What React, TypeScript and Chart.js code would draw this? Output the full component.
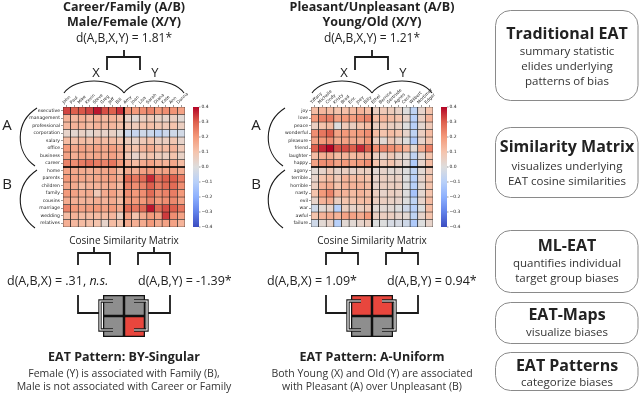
import React, { useEffect, useRef } from 'react';
import { Chart, registerables } from 'chart.js';
Chart.register(...registerables);

// ---------- data ----------
const careerFamilyRows = ['executive', 'management', 'professional', 'corporation', 'salary', 'office', 'business', 'career',
  'home', 'parents', 'children', 'family', 'cousins', 'marriage', 'wedding', 'relatives'];
const maleFemaleCols = ['John', 'Paul', 'Mike', 'Kevin', 'Steve', 'Greg', 'Jeff', 'Bill',
  'Amy', 'Joan', 'Lisa', 'Sarah', 'Diana', 'Kate', 'Ann', 'Donna'];
const careerFamilyValues = [
  [0.33, 0.30, 0.31, 0.33, 0.38, 0.32, 0.30, 0.35, 0.22, 0.20, 0.22, 0.24, 0.20, 0.22, 0.21, 0.18],
  [0.14, 0.13, 0.15, 0.13, 0.15, 0.13, 0.14, 0.12, 0.04, 0.02, 0.06, 0.08, 0.05, 0.04, 0.06, 0.02],
  [0.13, 0.14, 0.14, 0.12, 0.14, 0.13, 0.13, 0.11, 0.08, 0.07, 0.10, 0.11, 0.09, 0.08, 0.10, 0.06],
  [0.04, 0.03, 0.05, 0.03, 0.05, 0.04, 0.05, 0.02, -0.05, -0.06, -0.04, -0.05, -0.08, -0.05, -0.04, -0.03],
  [0.12, 0.11, 0.12, 0.11, 0.13, 0.12, 0.12, 0.10, 0.07, 0.05, 0.08, 0.10, 0.06, 0.06, 0.09, 0.04],
  [0.20, 0.17, 0.18, 0.17, 0.18, 0.17, 0.19, 0.16, 0.12, 0.10, 0.14, 0.16, 0.12, 0.12, 0.14, 0.08],
  [0.18, 0.15, 0.17, 0.16, 0.17, 0.16, 0.18, 0.15, 0.08, 0.04, 0.08, 0.10, 0.07, 0.06, 0.10, 0.05],
  [0.24, 0.22, 0.25, 0.27, 0.25, 0.24, 0.26, 0.20, 0.15, 0.12, 0.16, 0.18, 0.15, 0.14, 0.17, 0.12],
  [0.18, 0.17, 0.16, 0.15, 0.16, 0.17, 0.18, 0.12, 0.16, 0.15, 0.18, 0.20, 0.17, 0.18, 0.19, 0.16],
  [0.20, 0.18, 0.17, 0.16, 0.17, 0.18, 0.19, 0.15, 0.28, 0.26, 0.28, 0.36, 0.27, 0.30, 0.30, 0.25],
  [0.17, 0.16, 0.12, 0.14, 0.14, 0.15, 0.16, 0.12, 0.24, 0.22, 0.24, 0.30, 0.25, 0.28, 0.28, 0.22],
  [0.20, 0.18, 0.15, 0.16, 0.08, 0.16, 0.18, 0.14, 0.22, 0.20, 0.22, 0.28, 0.22, 0.24, 0.25, 0.20],
  [0.16, 0.15, 0.14, 0.14, 0.15, 0.14, 0.16, 0.12, 0.20, 0.20, 0.20, 0.24, 0.20, 0.22, 0.23, 0.18],
  [0.24, 0.20, 0.18, 0.19, 0.20, 0.18, 0.20, 0.16, 0.28, 0.26, 0.28, 0.38, 0.28, 0.32, 0.30, 0.26],
  [0.12, 0.14, 0.12, 0.12, 0.12, 0.12, 0.13, 0.06, 0.18, 0.10, 0.16, 0.20, 0.18, 0.34, 0.22, 0.18],
  [0.15, 0.13, 0.12, 0.11, 0.10, 0.04, 0.12, 0.10, 0.16, 0.15, 0.16, 0.20, 0.16, 0.18, 0.18, 0.14],
];

const pleasantRows = ['joy', 'love', 'peace', 'wonderful', 'pleasure', 'friend', 'laughter', 'happy',
  'agony', 'terrible', 'horrible', 'nasty', 'evil', 'war', 'awful', 'failure'];
const youngOldCols = ['Tiffany', 'Michelle', 'Cindy', 'Kristy', 'Brad', 'Eric', 'Joey', 'Billy',
  'Ethel', 'Bernice', 'Gertrude', 'Agnes', 'Cecil', 'Wilbert', 'Mortimer', 'Edgar'];
const pleasantValues = [
  [0.12, 0.13, 0.12, 0.10, 0.11, 0.12, 0.14, 0.12, 0.06, 0.08, 0.07, 0.05, 0.00, -0.08, 0.04, 0.10],
  [0.20, 0.24, 0.25, 0.18, 0.20, 0.19, 0.22, 0.24, 0.12, 0.14, 0.12, 0.10, 0.04, -0.10, 0.06, 0.14],
  [0.06, 0.10, 0.12, 0.00, 0.08, 0.06, 0.10, 0.12, 0.06, 0.08, 0.06, 0.05, 0.00, -0.10, 0.03, 0.08],
  [0.22, 0.26, 0.30, 0.18, 0.20, 0.18, 0.20, 0.22, 0.12, 0.10, 0.12, 0.10, 0.04, -0.08, 0.06, 0.12],
  [0.18, 0.20, 0.22, 0.16, 0.18, 0.16, 0.16, 0.20, 0.06, 0.02, 0.08, 0.04, 0.00, -0.12, 0.04, 0.10],
  [0.30, 0.36, 0.40, 0.32, 0.32, 0.30, 0.36, 0.30, 0.22, 0.24, 0.22, 0.20, 0.14, 0.02, 0.16, 0.24],
  [0.12, 0.15, 0.16, 0.12, 0.14, 0.12, 0.14, 0.14, 0.06, 0.04, 0.08, 0.04, 0.02, -0.08, 0.03, 0.10],
  [0.18, 0.22, 0.22, 0.18, 0.20, 0.18, 0.20, 0.22, 0.10, 0.08, 0.10, 0.06, 0.02, -0.12, 0.04, 0.12],
  [0.02, 0.04, 0.08, 0.04, 0.06, 0.04, 0.06, 0.06, 0.02, 0.04, 0.02, 0.03, 0.00, -0.08, 0.02, 0.08],
  [0.04, 0.10, 0.12, 0.08, 0.14, 0.12, 0.12, 0.10, 0.04, 0.06, 0.05, 0.05, 0.00, -0.10, 0.04, 0.10],
  [0.06, 0.14, 0.16, 0.10, 0.14, 0.14, 0.14, 0.12, 0.04, 0.06, 0.06, 0.06, 0.00, -0.10, 0.03, 0.10],
  [0.10, 0.20, 0.24, 0.14, 0.14, 0.12, 0.14, 0.12, 0.06, 0.04, 0.06, 0.05, 0.00, -0.14, 0.03, 0.10],
  [0.04, 0.14, 0.16, 0.06, 0.10, 0.10, 0.12, 0.12, 0.06, 0.06, 0.05, 0.04, 0.00, -0.08, 0.04, 0.12],
  [-0.04, 0.02, 0.04, -0.10, 0.06, 0.04, 0.06, 0.08, 0.02, 0.02, 0.02, 0.00, -0.04, -0.10, 0.00, 0.12],
  [0.10, 0.14, 0.16, 0.14, 0.18, 0.18, 0.16, 0.20, 0.06, 0.06, 0.06, 0.04, 0.02, -0.08, 0.04, 0.10],
  [-0.04, 0.02, 0.04, -0.10, 0.02, 0.02, 0.04, 0.06, 0.00, 0.00, -0.02, -0.02, -0.04, -0.12, 0.00, 0.04],
];

const colorbarTicks = [0.4, 0.3, 0.2, 0.1, 0.0, -0.1, -0.2, -0.3, -0.4];
const mapGroups = ['X', 'Y'];
const patternBYSingular = [[0, 0], [0, 1]];
const patternAUniform = [[1, 1], [0, 0]];

// ---------- styling helpers ----------
const VMIN = -0.4;
const VMAX = 0.4;
const coolwarmStops: [number, number, number][] = [
  [59, 76, 192], [98, 130, 234], [141, 176, 254], [184, 208, 249], [221, 221, 221],
  [245, 196, 173], [244, 154, 123], [222, 96, 77], [180, 4, 38],
];
function coolwarm(v: number): string {
  let t = (v - VMIN) / (VMAX - VMIN);
  t = Math.max(0, Math.min(1, t));
  const p = t * (coolwarmStops.length - 1);
  const i = Math.min(coolwarmStops.length - 2, Math.floor(p));
  const f = p - i;
  const a = coolwarmStops[i], b = coolwarmStops[i + 1];
  const c = a.map((x, k) => Math.round(x + (b[k] - x) * f));
  return `rgb(${c[0]},${c[1]},${c[2]})`;
}

const HM_W = 205, HM_H = 152, HM_YW = 45, HM_XH = 29;

function Heatmap({ rows, cols, values, left, top }: { rows: string[]; cols: string[]; values: number[][]; left: number; top: number }) {
  const ref = useRef<HTMLCanvasElement | null>(null);
  useEffect(() => {
    if (!ref.current) return;
    const datasets = values.map((row, r) => ({
      label: rows[r],
      data: row.map(() => 1),
      backgroundColor: row.map((v) => coolwarm(v)),
      borderColor: 'rgba(10,10,10,0.9)',
      borderWidth: 0.65,
      borderSkipped: false as const,
      barPercentage: 1,
      categoryPercentage: 1,
      stack: 'rows',
    }));
    const linesPlugin = {
      id: 'hmLines',
      afterDatasetsDraw(chart: any) {
        const { ctx, chartArea } = chart;
        const xs = chart.scales.x, ys = chart.scales.y;
        const half = cols.length / 2;
        const xm = (xs.getPixelForValue(half - 1) + xs.getPixelForValue(half)) / 2;
        const ym = ys.getPixelForValue(rows.length / 2);
        ctx.save();
        ctx.strokeStyle = '#000';
        ctx.lineWidth = 1.7;
        ctx.beginPath();
        ctx.moveTo(xm, chartArea.top);
        ctx.lineTo(xm, chartArea.bottom);
        ctx.moveTo(chartArea.left, ym);
        ctx.lineTo(chartArea.right, ym);
        ctx.stroke();
        ctx.restore();
      },
      afterDraw(chart: any) {
        const { ctx, chartArea } = chart;
        const x0 = chartArea.right + 8, w = 6;
        const t = chartArea.top, b = chartArea.bottom;
        const g = ctx.createLinearGradient(0, b, 0, t);
        coolwarmStops.forEach((c, i) => g.addColorStop(i / (coolwarmStops.length - 1), `rgb(${c[0]},${c[1]},${c[2]})`));
        ctx.save();
        ctx.fillStyle = g;
        ctx.fillRect(x0, t, w, b - t);
        ctx.strokeStyle = '#333';
        ctx.fillStyle = '#222';
        ctx.lineWidth = 0.5;
        ctx.font = '4.5px "DejaVu Sans"';
        ctx.textBaseline = 'middle';
        ctx.textAlign = 'left';
        colorbarTicks.forEach((v) => {
          const y = t + ((VMAX - v) / (VMAX - VMIN)) * (b - t);
          ctx.beginPath();
          ctx.moveTo(x0 + w, y);
          ctx.lineTo(x0 + w + 1.5, y);
          ctx.stroke();
          const s = v < 0 ? '\u2212' + Math.abs(v).toFixed(1) : v.toFixed(1);
          ctx.fillText(s, x0 + w + 2.5, y);
        });
        ctx.restore();
      },
    };
    const chart = new Chart(ref.current, {
      type: 'bar',
      data: { labels: cols, datasets },
      options: {
        animation: false,
        responsive: false,
        events: [],
        layout: { padding: { left: 0, top: 0, right: HM_W - HM_YW - 122, bottom: HM_H - HM_XH - 120 } },
        plugins: { legend: { display: false }, tooltip: { enabled: false } },
        scales: {
          x: {
            type: 'category',
            position: 'top',
            stacked: true,
            grid: { display: true, drawOnChartArea: false, tickLength: 2, offset: false, color: '#333', lineWidth: 0.5 },
            border: { display: false },
            ticks: { autoSkip: false, minRotation: 45, maxRotation: 45, padding: 0, color: '#222', font: { size: 4.3, family: 'DejaVu Sans' } },
            afterFit: (s: any) => { s.height = HM_XH; s.paddingLeft = 0; s.paddingRight = 0; },
          },
          y: {
            type: 'linear',
            stacked: true,
            reverse: true,
            min: 0,
            max: rows.length,
            grid: { display: true, drawOnChartArea: false, tickLength: 2, color: '#333', lineWidth: 0.5 },
            border: { display: false },
            afterBuildTicks: (s: any) => { s.ticks = rows.map((_, i) => ({ value: i + 0.5 })); },
            ticks: {
              autoSkip: false, padding: 1, color: '#222', font: { size: 4.6, family: 'DejaVu Sans' },
              callback: (v: any) => rows[Math.floor(Number(v))] ?? '',
            },
            afterFit: (s: any) => { s.width = HM_YW; s.paddingTop = 0; s.paddingBottom = 0; },
          },
        },
      },
      plugins: [linesPlugin],
    } as any);
    return () => chart.destroy();
  }, [rows, cols, values]);
  return <canvas ref={ref} width={HM_W} height={HM_H} style={{ position: 'absolute', left, top, width: HM_W, height: HM_H }} />;
}

function EatMap({ pattern, left, top }: { pattern: number[][]; left: number; top: number }) {
  const ref = useRef<HTMLCanvasElement | null>(null);
  useEffect(() => {
    if (!ref.current) return;
    const datasets = pattern.map((row) => ({
      data: row.map(() => 1),
      backgroundColor: row.map((v) => (v ? '#e8463d' : '#8e8e8e')),
      borderColor: '#111',
      borderWidth: 1.6,
      borderSkipped: false as const,
      barPercentage: 1,
      categoryPercentage: 1,
      stack: 'm',
    }));
    const chart = new Chart(ref.current, {
      type: 'bar',
      data: { labels: mapGroups, datasets },
      options: {
        animation: false,
        responsive: false,
        events: [],
        layout: { padding: 0 },
        plugins: { legend: { display: false }, tooltip: { enabled: false } },
        scales: {
          x: { type: 'category', stacked: true, display: false },
          y: { type: 'linear', stacked: true, reverse: true, min: 0, max: pattern.length, display: false },
        },
      },
    } as any);
    return () => chart.destroy();
  }, [pattern]);
  return <canvas ref={ref} width={42} height={42} style={{ position: 'absolute', left, top, width: 42, height: 42 }} />;
}

const FONT = '"Open Sans", "DejaVu Sans", sans-serif';
const LINE = '#1a1a1a';

function PanelOverlay({ dx, mapX }: { dx: number; mapX: number }) {
  const s = (x: number) => x + dx;
  return (
    <g fill="none" stroke={LINE} strokeWidth={1.8}>
      <path d={`M${s(124)} 50 L${s(124)} 57 M${s(107)} 70 L${s(107)} 57 L${s(140)} 57 L${s(140)} 70`} />
      <path strokeWidth={1.1} d={`M${s(64)} 93 C${s(75)} 77, ${s(113)} 77, ${s(124)} 93`} />
      <path strokeWidth={1.1} d={`M${s(124)} 93 C${s(135)} 77, ${s(173)} 77, ${s(184)} 93`} />
      <path strokeWidth={1.1} d={`M${s(37)} 108 C${s(15)} 122, ${s(15)} 152, ${s(35)} 166`} />
      <path strokeWidth={1.1} d={`M${s(37)} 170 C${s(15)} 185, ${s(15)} 213, ${s(35)} 228`} />
      <path d={`M${s(94)} 247 L${s(94)} 253 M${s(78)} 265 L${s(78)} 253 L${s(110)} 253 L${s(110)} 265`} />
      <path d={`M${s(154)} 247 L${s(154)} 253 M${s(138)} 265 L${s(138)} 253 L${s(170)} 253 L${s(170)} 265`} />
      <path d={`M${s(78)} 295 L${s(78)} 313 L${mapX - 3} 313`} />
      <path d={`M${s(170)} 295 L${s(170)} 313 L${mapX + 44} 313`} />
      <path strokeWidth={3.4} d={`M${mapX + 10} 301 L${mapX - 3} 301 L${mapX - 3} 330 L${mapX + 10} 330`} />
      <path strokeWidth={1.2} stroke="#fff" d={`M${mapX + 10} 301 L${mapX - 3} 301 L${mapX - 3} 330 L${mapX + 10} 330`} />
      <path strokeWidth={3.4} d={`M${mapX + 31} 301 L${mapX + 44} 301 L${mapX + 44} 330 L${mapX + 31} 330`} />
      <path strokeWidth={1.2} stroke="#fff" d={`M${mapX + 31} 301 L${mapX + 44} 301 L${mapX + 44} 330 L${mapX + 31} 330`} />
    </g>
  );
}

function BoxText({ y, h, title, lines, titleY, lineYs }: { y: number; h: number; title: string; lines: string[]; titleY: number; lineYs: number[] }) {
  return (
    <g>
      <rect x={495.5} y={y + 0.5} width={142.5} height={h} rx={15} ry={15} fill="none" stroke="#8a8a8a" strokeWidth={1} />
      <text x={567} y={titleY} textAnchor="middle" fontFamily={FONT} fontWeight={700} fontSize={16} fill="#222">{title}</text>
      {lines.map((l, i) => (
        <text key={i} x={567} y={lineYs[i]} textAnchor="middle" fontFamily={FONT} fontSize={11.5} fill="#333">{l}</text>
      ))}
    </g>
  );
}

export default function App() {
  const t = { fontFamily: FONT, fill: '#222' } as const;
  return (
    <div style={{ position: 'fixed', left: 0, top: 0, width: 640, height: 394, background: '#fff', overflow: 'hidden' }}>
      <Heatmap rows={careerFamilyRows} cols={maleFemaleCols} values={careerFamilyValues} left={18} top={78} />
      <Heatmap rows={pleasantRows} cols={youngOldCols} values={pleasantValues} left={266} top={78} />
      <EatMap pattern={patternBYSingular} left={103} top={295} />
      <EatMap pattern={patternAUniform} left={351} top={295} />
      <svg width={640} height={394} style={{ position: 'absolute', left: 0, top: 0, pointerEvents: 'none' }}>
        <PanelOverlay dx={0} mapX={103} />
        <PanelOverlay dx={248} mapX={351} />

        <text {...t} x={124} y={11} textAnchor="middle" fontWeight={700} fontSize={12.5}>Career/Family (A/B)</text>
        <text {...t} x={124} y={26} textAnchor="middle" fontWeight={700} fontSize={12.5}>Male/Female (X/Y)</text>
        <text {...t} x={124} y={42} textAnchor="middle" fontSize={12}>d(A,B,X,Y) = 1.81*</text>
        <text {...t} x={96} y={77} textAnchor="middle" fontSize={13}>X</text>
        <text {...t} x={155} y={77} textAnchor="middle" fontSize={13}>Y</text>
        <text {...t} x={7} y={130} textAnchor="middle" fontSize={15}>A</text>
        <text {...t} x={7} y={189} textAnchor="middle" fontSize={15}>B</text>
        <text {...t} x={124} y={244} textAnchor="middle" fontSize={10}>Cosine Similarity Matrix</text>
        <text {...t} x={7} y={285} fontSize={12.5}>d(A,B,X) = .31, <tspan fontStyle="italic">n.s.</tspan></text>
        <text {...t} x={138} y={285} fontSize={12.5}>d(A,B,Y) = -1.39*</text>
        <text {...t} x={124} y={361} textAnchor="middle" fontWeight={700} fontSize={12.5}>EAT Pattern: BY-Singular</text>
        <text {...t} x={124} y={377} textAnchor="middle" fontSize={10.5} fill="#333">Female (Y) is associated with Family (B),</text>
        <text {...t} x={124} y={390} textAnchor="middle" fontSize={10.5} fill="#333">Male is not associated with Career or Family</text>

        <text {...t} x={372} y={11} textAnchor="middle" fontWeight={700} fontSize={12.5}>Pleasant/Unpleasant (A/B)</text>
        <text {...t} x={372} y={26} textAnchor="middle" fontWeight={700} fontSize={12.5}>Young/Old (X/Y)</text>
        <text {...t} x={372} y={42} textAnchor="middle" fontSize={12}>d(A,B,X,Y) = 1.21*</text>
        <text {...t} x={344} y={77} textAnchor="middle" fontSize={13}>X</text>
        <text {...t} x={403} y={77} textAnchor="middle" fontSize={13}>Y</text>
        <text {...t} x={256} y={130} textAnchor="middle" fontSize={15}>A</text>
        <text {...t} x={256} y={189} textAnchor="middle" fontSize={15}>B</text>
        <text {...t} x={372} y={244} textAnchor="middle" fontSize={10}>Cosine Similarity Matrix</text>
        <text {...t} x={267} y={285} fontSize={12.5}>d(A,B,X) = 1.09*</text>
        <text {...t} x={387} y={285} fontSize={12.5}>d(A,B,Y) = 0.94*</text>
        <text {...t} x={372} y={361} textAnchor="middle" fontWeight={700} fontSize={12.5}>EAT Pattern: A-Uniform</text>
        <text {...t} x={372} y={377} textAnchor="middle" fontSize={10.5} fill="#333">Both Young (X) and Old (Y) are associated</text>
        <text {...t} x={372} y={390} textAnchor="middle" fontSize={10.5} fill="#333">with Pleasant (A) over Unpleasant (B)</text>

        <BoxText y={10} h={90} title="Traditional EAT" titleY={39} lines={['summary statistic', 'elides underlying', 'patterns of bias']} lineYs={[55, 70, 85]} />
        <BoxText y={127} h={70} title="Similarity Matrix" titleY={152} lines={['visualizes underlying', 'EAT cosine similarities']} lineYs={[170, 185]} />
        <BoxText y={230} h={62} title="ML-EAT" titleY={251} lines={['quantifies individual', 'target group biases']} lineYs={[267, 282]} />
        <BoxText y={302} h={41} title="EAT-Maps" titleY={320} lines={['visualize biases']} lineYs={[336]} />
        <BoxText y={352} h={38} title="EAT Patterns" titleY={371} lines={['categorize biases']} lineYs={[386]} />
      </svg>
    </div>
  );
}
